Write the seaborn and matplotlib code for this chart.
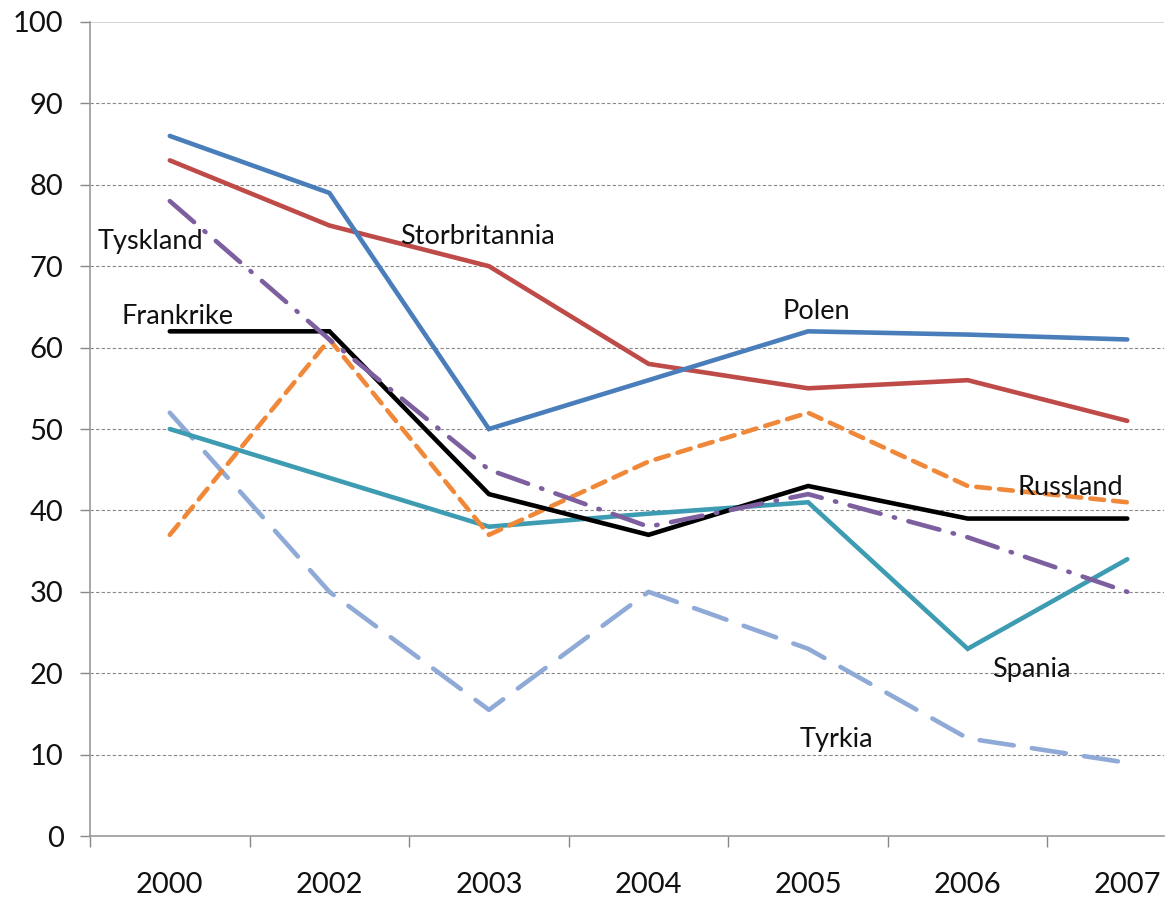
import matplotlib
matplotlib.use("Agg")
import matplotlib.pyplot as plt
import seaborn as sns
import pandas as pd
import numpy as np
from matplotlib.ticker import FixedLocator

years = ["2000", "2002", "2003", "2004", "2005", "2006", "2007"]
polen = [86, 79, 50, 56, 62, 61.6, 61]
storbritannia = [83, 75, 70, 58, 55, 56, 51]
tyskland = [78, 61, 45, 38, 42, 36.7, 30]
frankrike = [62, 62, 42, 37, 43, 39, 39]
russland = [37, 61, 37, 46, 52, 43, 41]
spania = [50, 44, 38, 39.6, 41, 23, 34]
tyrkia = [52, 30, 15.5, 30, 23, 12, 9]

series = {
    "Tyrkia": tyrkia,
    "Spania": spania,
    "Russland": russland,
    "Frankrike": frankrike,
    "Tyskland": tyskland,
    "Storbritannia": storbritannia,
    "Polen": polen,
}
colors = {
    "Polen": "#4A7EBB",
    "Storbritannia": "#BE4B48",
    "Tyskland": "#7D5FA0",
    "Frankrike": "#000000",
    "Russland": "#F0883A",
    "Spania": "#3E9CB2",
    "Tyrkia": "#8FAAD6",
}
dashes = {
    "Polen": None,
    "Storbritannia": None,
    "Tyskland": (7, 3, 0.3, 3),
    "Frankrike": None,
    "Russland": (3, 2),
    "Spania": None,
    "Tyrkia": (7.5, 4),
}
labels = {
    "Tyskland": (-0.12, 73.0),
    "Storbritannia": (1.93, 73.6),
    "Polen": (4.05, 64.4),
    "Frankrike": (0.05, 63.8),
    "Russland": (5.64, 42.8),
    "Spania": (5.4, 20.4),
    "Tyrkia": (4.18, 11.8),
}

sns.set_style("white")
plt.rcParams['font.family'] = ['Lato', 'DejaVu Sans']

fig = plt.figure(figsize=(11.69, 9.01), dpi=100)
ax = fig.add_axes([0.077, 0.0721, 0.9187, 0.9035])

x = np.arange(len(years))
for name, vals in series.items():
    df = pd.DataFrame({"x": x, "y": vals})
    ls = "-" if dashes[name] is None else (0, dashes[name])
    sns.lineplot(data=df, x="x", y="y", ax=ax, color=colors[name], linewidth=3.3,
                 linestyle=ls, solid_capstyle="round", dash_capstyle="round",
                 solid_joinstyle="miter")

for name, (lx, ly) in labels.items():
    ax.text(lx, ly, name, ha="center", va="center", fontsize=19.5, color="#111111")

ax.set_xlim(-0.5, 6.23)
ax.set_ylim(0, 100)
ax.set_yticks(np.arange(0, 101, 10))
ax.tick_params(axis="y", labelsize=21, length=7, color="#888888", pad=12, width=1, direction="out", left=True)
ax.set_xticks(x)
ax.set_xticklabels(years)
ax.tick_params(axis="x", which="major", length=0, labelsize=21, pad=26)
ax.xaxis.set_minor_locator(FixedLocator(np.arange(-0.5, 6.3, 1)))
ax.tick_params(axis="x", which="minor", length=8, color="#888888", width=1, direction="out", bottom=True)
for lab in ax.get_xticklabels() + ax.get_yticklabels():
    lab.set_color("#111111")

for yv in range(10, 100, 10):
    ax.axhline(yv, color="#888888", linewidth=0.8, linestyle=(0, (3, 2)), zorder=0)
ax.axhline(100, color="#cccccc", linewidth=1.2, zorder=0)

for s in ["top", "right"]:
    ax.spines[s].set_visible(False)
for s in ["left", "bottom"]:
    ax.spines[s].set_color("#999999")
    ax.spines[s].set_linewidth(1.2)
ax.set_xlabel("")
ax.set_ylabel("")
ax.grid(False)

fig.savefig("out.png", dpi=100)
